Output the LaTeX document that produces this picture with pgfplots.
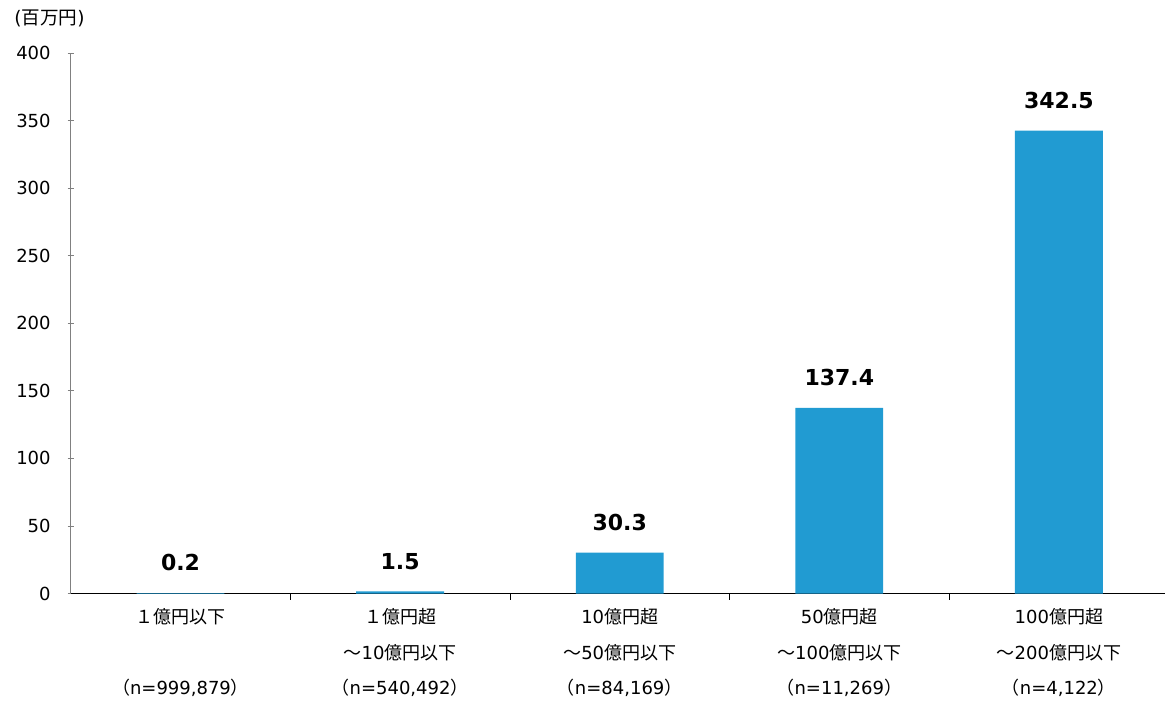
\documentclass[border=0pt]{standalone}
\usepackage{pgfplots}
\pgfplotsset{compat=1.18}
\usepackage{fontspec}
\setmainfont{DejaVu Sans}
\newfontfamily\cjk{Noto Sans CJK JP}
\definecolor{barblue}{RGB}{33,155,210}
\definecolor{axgray}{RGB}{128,128,128}

\begin{document}
\begin{tikzpicture}
\useasboundingbox (0,0) rectangle (582.5pt,350.5pt);
\node[anchor=west, font=\fontsize{9.3pt}{10pt}\selectfont, inner sep=0pt] at (7pt,341.5pt) {({\cjk 百万円})};
\begin{axis}[
    at={(35.35pt,53.75pt)}, anchor=south west,
    scale only axis,
    width=549pt, height=270.25pt,
    xmin=-0.5, xmax=4.5,
    ymin=0, ymax=400,
    ytick={0,50,...,400},
    xtick={0,...,4},
    xticklabels={
        {{\cjk １億円以下}\\ \mbox{}\\ {\cjk （}n=999,879{\cjk ）}},
        {{\cjk １億円超}\\ {\cjk ～}10{\cjk 億円以下}\\ {\cjk （}n=540,492{\cjk ）}},
        {10{\cjk 億円超}\\ {\cjk ～}50{\cjk 億円以下}\\ {\cjk （}n=84,169{\cjk ）}},
        {50{\cjk 億円超}\\ {\cjk ～}100{\cjk 億円以下}\\ {\cjk （}n=11,269{\cjk ）}},
        {100{\cjk 億円超}\\ {\cjk ～}200{\cjk 億円以下}\\ {\cjk （}n=4,122{\cjk ）}}
    },
    minor xtick={0.5,1.5,2.5,3.5},
    x tick style={draw=none},
    minor x tick style={draw=black, thin},
    minor tick length=3pt,
    y tick style={draw=axgray, thin},
    major tick length=3pt,
    tick align=outside,
    axis x line=bottom,
    axis y line=left,
    axis line style={-},
    x axis line style={black, thin},
    y axis line style={axgray, thin},
    xticklabel style={align=center, font=\fontsize{9pt}{17.75pt}\selectfont, anchor=north, yshift=-1pt},
    yticklabel style={font=\fontsize{9pt}{10pt}\selectfont, anchor=east, xshift=-5pt},
    /pgf/number format/assume math mode=true,
    ybar,
    bar width=0.4,
    nodes near coords,
    nodes near coords style={font=\fontsize{11pt}{12pt}\selectfont\bfseries, anchor=south, yshift=7.5pt,
        /pgf/number format/.cd, fixed, fixed zerofill, precision=1, assume math mode=true},
    clip=false,
]
\addplot[fill=barblue, draw=none] coordinates {
    (0,0.2) (1,1.5) (2,30.3) (3,137.4) (4,342.5)
};
\end{axis}
\end{tikzpicture}
\end{document}
